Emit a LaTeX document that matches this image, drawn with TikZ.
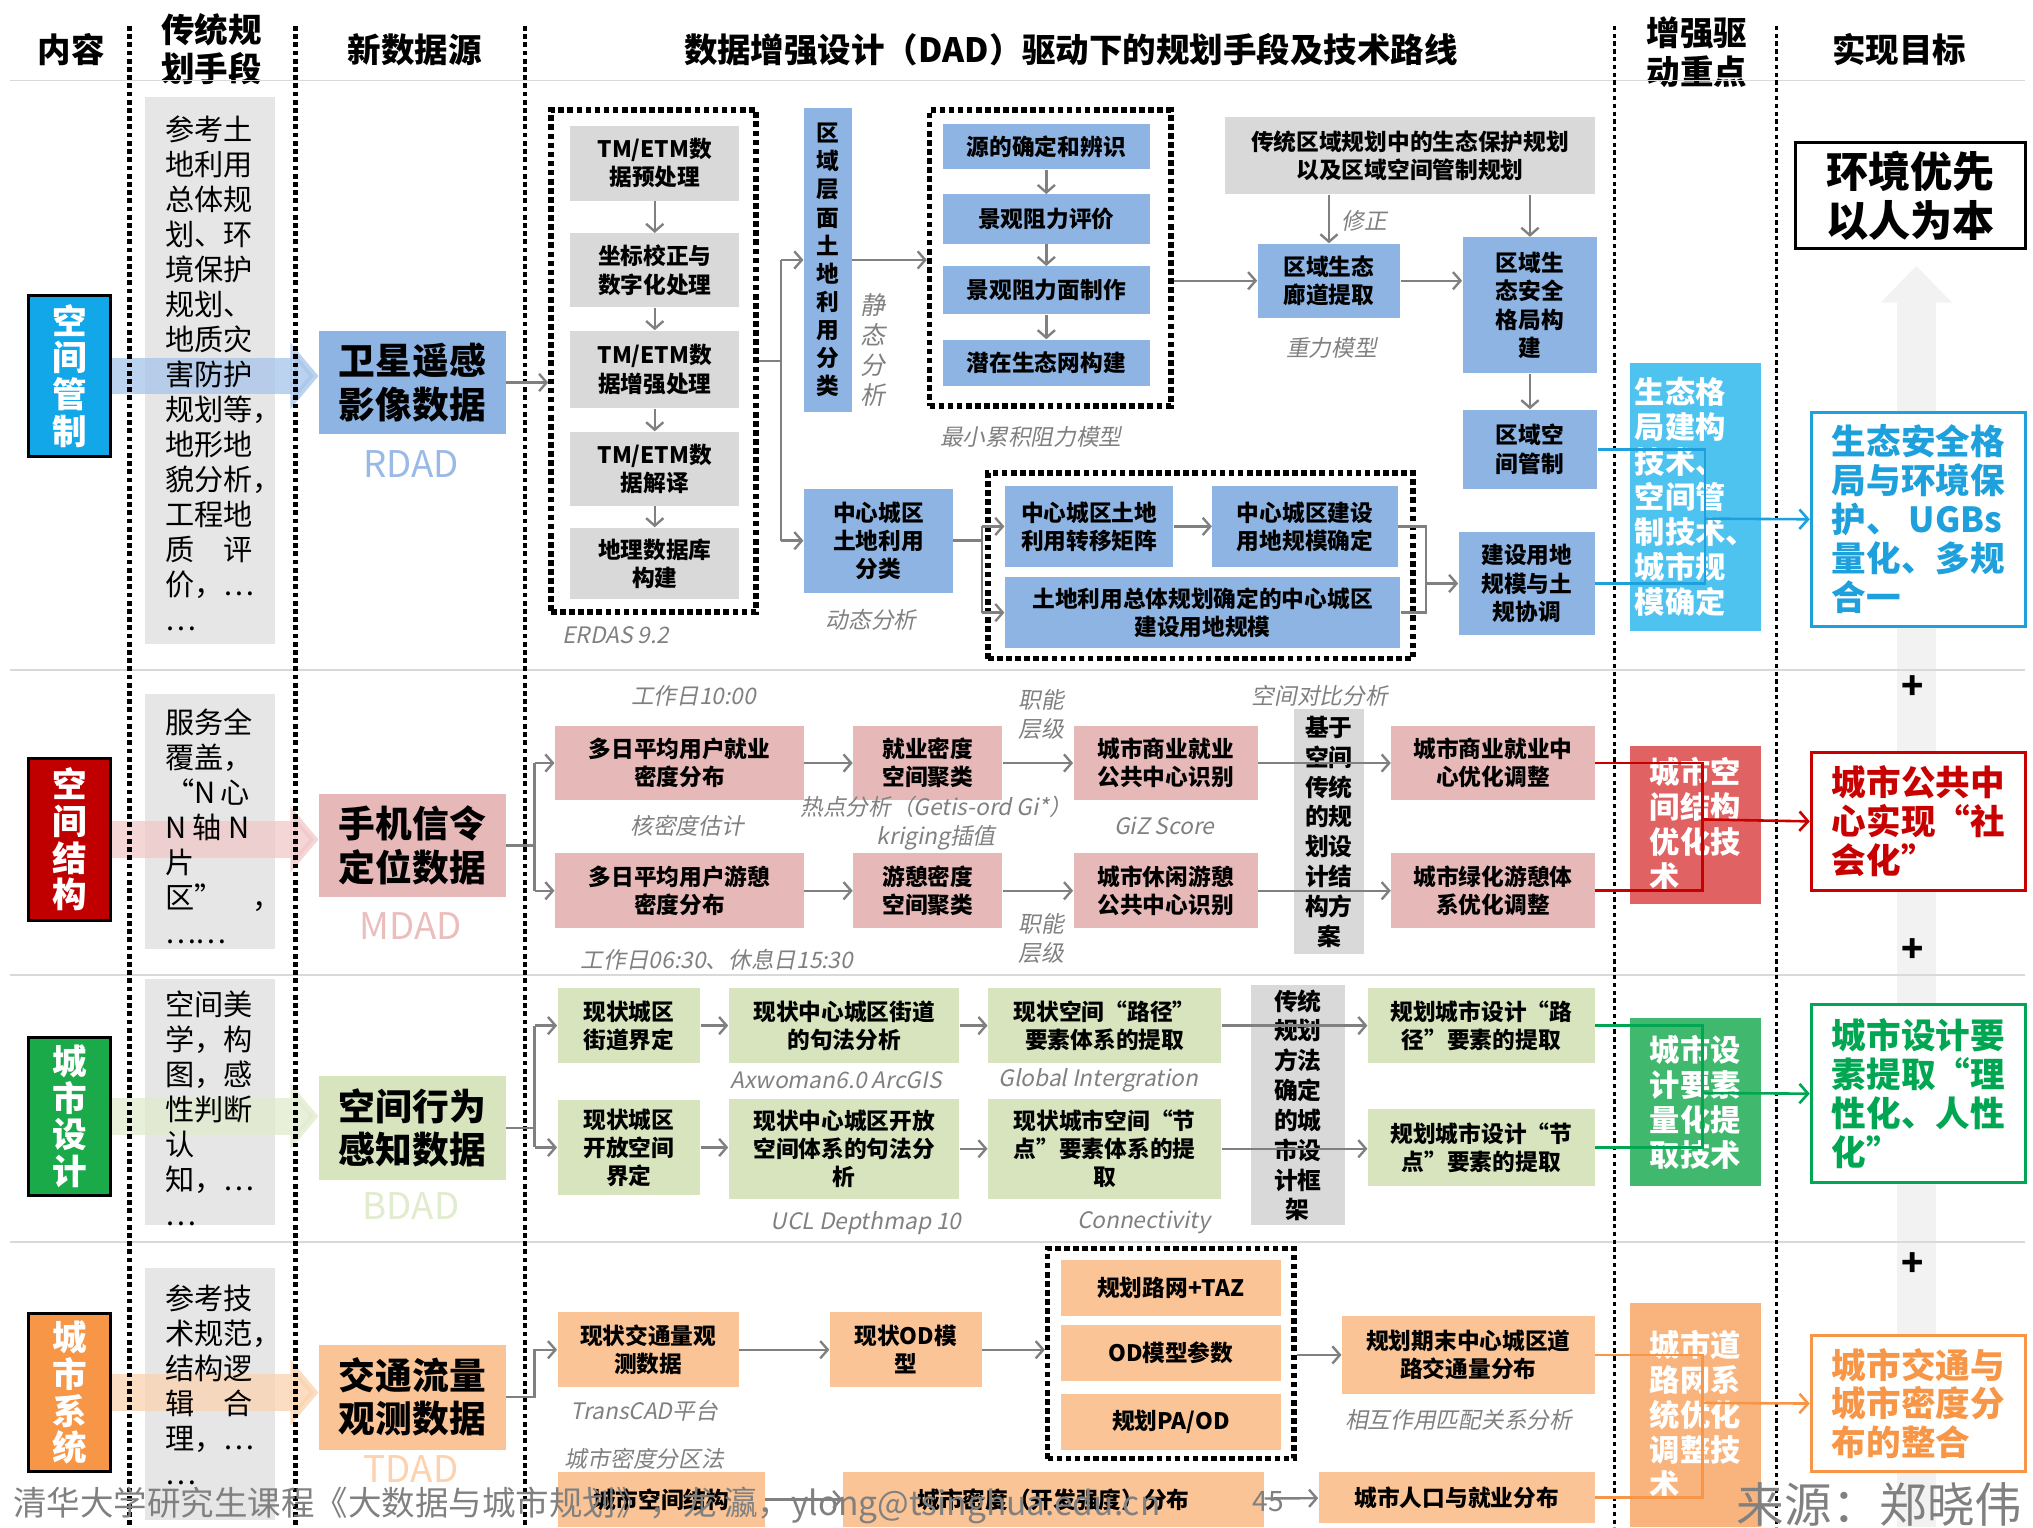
\documentclass[tikz,border=0pt]{standalone}
\usepackage{fontspec}
\setmainfont{Noto Sans CJK SC}
\newfontfamily\labfont{Noto Sans CJK SC}[FakeSlant=0.2]
\usetikzlibrary{arrows.meta}

\newcommand\upx{0.6pt}
\definecolor{catblue}{RGB}{17,167,232}
\definecolor{catred}{RGB}{192,0,0}
\definecolor{catgreen}{RGB}{26,170,74}
\definecolor{catorange}{RGB}{247,150,70}
\definecolor{boxblue}{RGB}{141,180,226}
\definecolor{boxpink}{RGB}{230,185,184}
\definecolor{boxgreen}{RGB}{215,228,189}
\definecolor{boxorange}{RGB}{250,196,150}
\definecolor{boxgray}{RGB}{217,217,217}
\definecolor{colgray}{RGB}{230,230,230}
\definecolor{enhblue}{RGB}{79,195,240}
\definecolor{enhred}{RGB}{225,98,98}
\definecolor{enhgreen}{RGB}{64,184,110}
\definecolor{enhorange}{RGB}{249,180,125}
\definecolor{lnblue}{RGB}{30,160,220}
\definecolor{lnred}{RGB}{200,0,0}
\definecolor{lngreen}{RGB}{0,166,81}
\definecolor{lnorange}{RGB}{247,150,70}
\definecolor{labgray}{RGB}{128,128,128}
\definecolor{arrgray}{RGB}{128,128,128}
\definecolor{wablue}{RGB}{166,196,234}
\definecolor{wapink}{RGB}{240,200,200}
\definecolor{wagreen}{RGB}{225,235,205}
\definecolor{waorange}{RGB}{250,210,175}
\definecolor{rdadc}{RGB}{155,185,230}
\definecolor{mdadc}{RGB}{235,190,190}
\definecolor{bdadc}{RGB}{225,235,205}
\definecolor{tdadc}{RGB}{252,210,175}

\tikzset{
  sz/.style 2 args={minimum width=#1*\upx, minimum height=#2*\upx},
  box/.style={rectangle, inner sep=0pt, align=center, font=\fontsize{10.5}{13}\selectfont\bfseries},
  graybox/.style={box, fill=boxgray},
  bluebox/.style={box, fill=boxblue},
  pinkbox/.style={box, fill=boxpink},
  greenbox/.style={box, fill=boxgreen},
  orangebox/.style={box, fill=boxorange},
  dotbox/.style={rectangle, draw, line width=2.6pt, dash pattern=on 2.6pt off 1.6pt, inner sep=0pt},
  catbox/.style={rectangle, draw=black, line width=1.2pt, inner sep=0pt, align=center, text=white, font=\fontsize{16}{17}\selectfont\bfseries},
  colbox/.style={rectangle, fill=colgray, inner sep=0pt},
  coltext/.style={anchor=west, align=left, inner sep=0pt, font=\fontsize{13.5}{16.2}\selectfont},
  databox/.style={rectangle, inner sep=0pt, align=center, font=\fontsize{17}{20}\selectfont\bfseries},
  dad/.style={inner sep=0pt, font=\fontsize{17}{17}\selectfont},
  enhbox/.style={rectangle, inner sep=0pt, align=left, text=white, font=\fontsize{14}{16.2}\selectfont\bfseries},
  goalbox/.style={rectangle, draw=#1, line width=1.4pt, fill=white, text=#1, inner sep=0pt, align=left, font=\fontsize{16}{18}\selectfont\bfseries},
  lab/.style={inner sep=0pt, align=center, text=labgray, font=\labfont\fontsize{10.5}{13.5}\selectfont},
  head/.style={inner sep=0pt, align=center, font=\fontsize{15.5}{18}\selectfont\bfseries},
  arr/.style={draw=arrgray, line width=1.1pt, -{Straight Barb[length=3.5pt,width=8pt]}},
  arrln/.style={draw=arrgray, line width=1.1pt},
  cln/.style={draw=#1, line width=1.2pt},
  carr/.style={draw=#1, line width=1.2pt, -{Straight Barb[length=4pt,width=9pt]}},
  wide/.style={draw=#1, line width=17pt, -{Triangle[length=13pt,width=30pt]}, opacity=.75},
  sepline/.style={draw=gray!30, line width=0.8pt},
  divthick/.style={draw=black, line width=2.2pt, dash pattern=on 2.2pt off 1.6pt},
  divthin/.style={draw=black, line width=1.4pt, dash pattern=on 2pt off 1.6pt},
  plus/.style={inner sep=0pt, font=\fontsize{17}{17}\selectfont\bfseries},
  foot/.style={inner sep=0pt, text=black!50, font=\fontsize{15.5}{17}\selectfont}
}

\begin{document}
\begin{tikzpicture}[x=0.6pt, y=-0.6pt]
\useasboundingbox (0,0) rectangle (1568,1178);

% background arrow towards the overall goal
\coordinate (upb) at (1478,1178);
\coordinate (upt) at (1478,205);
\draw[draw=gray!10, line width=18pt, -{Triangle[length=17pt,width=32pt]}] (upb) -- (upt);

% header
\node[head] (hcont) at (55,38) {内容};
\node[head] (htrad) at (163,38) {传统规\\划手段};
\node[head] (hsrc) at (320,38) {新数据源};
\node[head] (htitle) at (826,38) {数据增强设计（DAD）驱动下的规划手段及技术路线};
\node[head] (henh) at (1309,40) {增强驱\\动重点};
\node[head] (hgoal) at (1465,38) {实现目标};

\draw[sepline] (8,62) -- (1562,62);
\draw[sepline] (8,517) -- (1562,517);
\draw[sepline] (8,752) -- (1562,752);
\draw[sepline] (8,958) -- (1562,958);

% traditional columns
\node[colbox, sz={100}{422}] (col1) at (162,286) {};
\node[colbox, sz={100}{197}] (col2) at (162,633.5) {};
\node[colbox, sz={100}{190}] (col3) at (162,850) {};
\node[colbox, sz={100}{194}] (col4) at (162,1075) {};

% categories and data sources
\node[catbox, fill=catblue, sz={63}{124}] (cat1) at (53.5,290) {空\\间\\管\\制};
\node[catbox, fill=catred, sz={63}{125}] (cat2) at (53.5,647.5) {空\\间\\结\\构};
\node[catbox, fill=catgreen, sz={63}{122}] (cat3) at (53.5,861) {城\\市\\设\\计};
\node[catbox, fill=catorange, sz={63}{122}] (cat4) at (53.5,1074) {城\\市\\系\\统};

\node[databox, fill=boxblue, sz={144}{80}] (data1) at (318,295) {卫星遥感\\影像数据};
\node[databox, fill=boxpink, sz={144}{80}] (data2) at (318,652) {手机信令\\定位数据};
\node[databox, fill=boxgreen, sz={144}{80}] (data3) at (318,870) {空间行为\\感知数据};
\node[databox, fill=boxorange, sz={144}{81}] (data4) at (318,1077.5) {交通流量\\观测数据};

\draw[wide=wablue] (cat1.east) -- (cat1.east -| data1.west);
\draw[wide=wapink] (cat2.east) -- (cat2.east -| data2.west);
\draw[wide=wagreen] (cat3.east) -- (cat3.east -| data3.west);
\draw[wide=waorange] (cat4.east) -- (cat4.east -| data4.west);

\node[dad, text=rdadc] (rdad) at (317,358) {RDAD};
\node[dad, text=mdadc] (mdad) at (317,714) {MDAD};
\node[dad, text=bdadc] (bdad) at (317,930) {BDAD};
\node[dad, text=tdadc] (tdad) at (317,1133) {TDAD};

% column dividers
\draw[divthick] (100,20) -- (100,1178);
\draw[divthick] (228,20) -- (228,1178);
\draw[divthick] (405,20) -- (405,1178);
\draw[divthin] (1245,20) -- (1245,1178);
\draw[divthin] (1370,20) -- (1370,1178);

\node[coltext] (col1t) at (127,288) {参考土\\地利用\\总体规\\划、环\\境保护\\规划、\\地质灾\\害防护\\规划等，\\地形地\\貌分析，\\工程地\\质　评\\价，…\\…};
\node[coltext] (col2t) at (127,637) {服务全\\覆盖，\\“N\,心\\N~轴~N\\片\\区”　，\\……};
\node[coltext] (col3t) at (127,855) {空间美\\学，构\\图，感\\性判断\\认\\知，…\\…};
\node[coltext] (col4t) at (127,1068) {参考技\\术规范，\\结构逻\\辑　合\\理，…\\…};

% ---- row 1: spatial control
\node[dotbox, sz={158}{387}] (erdas) at (504,278.5) {};
\node[graybox, sz={130}{58}] (e1) at (505,126) {TM/ETM数\\据预处理};
\node[graybox, sz={130}{57}] (e2) at (505,208.5) {坐标校正与\\数字化处理};
\node[graybox, sz={130}{60}] (e3) at (505,285) {TM/ETM数\\据增强处理};
\node[graybox, sz={130}{57}] (e4) at (505,361.5) {TM/ETM数\\据解译};
\node[graybox, sz={130}{55}] (e5) at (505,434.5) {地理数据库\\构建};
\draw[arr] (e1) -- (e2);
\draw[arr] (e2) -- (e3);
\draw[arr] (e3) -- (e4);
\draw[arr] (e4) -- (e5);
\node[lab] (lerdas) at (475,490) {ERDAS 9.2};
\draw[arr] (data1.east) -- (data1.east -| erdas.west);

\node[bluebox, sz={37}{235}] (reg) at (638.5,200.5) {区\\域\\层\\面\\土\\地\\利\\用\\分\\类};
\node[lab, font=\labfont\fontsize{11.5}{14}\selectfont] (lstat) at (673,270) {静\\态\\分\\析};
\node[bluebox, sz={115}{80}] (ctr) at (677.5,417) {中心城区\\土地利用\\分类};
\node[lab] (ldyn) at (672,478) {动态分析};
\draw[arrln] (erdas.east) -- ++(17,0) coordinate (br1);
\draw[arrln] (br1 |- reg.west) -- (br1 |- ctr.west);
\draw[arr] (br1 |- reg.west) -- (reg.west);
\draw[arr] (br1 |- ctr.west) -- (ctr.west);

\node[dotbox, sz={186}{228}] (mlr) at (810,199) {};
\node[bluebox, sz={160}{35}] (m1) at (807,113) {源的确定和辨识};
\node[bluebox, sz={160}{38}] (m2) at (807,169) {景观阻力评价};
\node[bluebox, sz={160}{37}] (m3) at (807,224) {景观阻力面制作};
\node[bluebox, sz={160}{36}] (m4) at (807,280) {潜在生态网构建};
\draw[arr] (m1) -- (m2);
\draw[arr] (m2) -- (m3);
\draw[arr] (m3) -- (m4);
\node[lab] (lmlr) at (795,337) {最小累积阻力模型};
\draw[arr] (reg.east) -- (reg.east -| mlr.west);

\node[graybox, sz={285}{60}] (tradr) at (1087.5,120) {传统区域规划中的生态保护规划\\以及区域空间管制规划};
\node[bluebox, sz={110}{57}] (corr) at (1025,216.5) {区域生态\\廊道提取};
\node[lab] (lgrav) at (1027,268) {重力模型};
\node[bluebox, sz={104}{105}] (sec) at (1180,235.5) {区域生\\态安全\\格局构\\建};
\node[bluebox, sz={104}{61}] (ctrl) at (1180,346.5) {区域空\\间管制};
\draw[arr] (mlr.east |- corr.west) -- (corr.west);
\draw[arr] (corr.north |- tradr.south) -- (corr.north);
\node[lab] (lfix) at (1052,170) {修正};
\draw[arr] (sec.north |- tradr.south) -- (sec.north);
\draw[arr] (corr.east) -- (corr.east -| sec.west);
\draw[arr] (sec) -- (ctrl);

\node[dotbox, sz={328}{143}] (scale) at (926,436.5) {};
\node[bluebox, sz={130}{62}] (t1) at (840,406) {中心城区土地\\利用转移矩阵};
\node[bluebox, sz={143}{62}] (t2) at (1006.5,406) {中心城区建设\\用地规模确定};
\node[bluebox, sz={305}{55}] (t3) at (927.5,472.5) {土地利用总体规划确定的中心城区\\建设用地规模};
\node[bluebox, sz={105}{80}] (lsc) at (1177.5,450) {建设用地\\规模与土\\规协调};
\draw[arrln] (ctr.east) -- ++(22,0) coordinate (br2);
\draw[arrln] (br2 |- t1.west) -- (br2 |- t3.west);
\draw[arr] (br2 |- t1.west) -- (t1.west);
\draw[arr] (br2 |- t3.west) -- (t3.west);
\draw[arr] (t1) -- (t2);
\coordinate (bk1) at (1100,450);
\draw[arrln] (t2.east) -| (bk1) |- (t3.east);
\draw[arr] (bk1) -- (lsc.west);

\node[enhbox, fill=enhblue, sz={101}{207}] (enh1) at (1307.5,383.5) {生态格\\局建构\\技术、\\空间管\\制技术、\\城市规\\模确定};
\node[goalbox=lnblue, sz={165}{165}] (goal1) at (1479.5,400.5) {生态安全格\\局与环境保\\护、 UGBs\\量化、多规\\合一};
\node[rectangle, draw=black, line width=1.4pt, fill=white, inner sep=0pt, align=center, font=\fontsize{19.5}{23}\selectfont\bfseries, sz={177}{82}] (goal0) at (1473.5,151) {环境优先\\以人为本};
\coordinate (cj) at (1315,400);
\draw[cln=lnblue] (ctrl.east) -| (cj) |- (lsc.east);
\draw[carr=lnblue] (cj) -- (goal1.west);

% ---- row 2: spatial structure
\node[pinkbox, sz={192}{57}] (p1) at (524,588.5) {多日平均用户就业\\密度分布};
\node[pinkbox, sz={192}{58}] (p2) at (524,687) {多日平均用户游憩\\密度分布};
\node[pinkbox, sz={115}{57}] (p3) at (715.5,588.5) {就业密度\\空间聚类};
\node[pinkbox, sz={115}{58}] (p4) at (715.5,687) {游憩密度\\空间聚类};
\node[pinkbox, sz={142}{57}] (p5) at (899,588.5) {城市商业就业\\公共中心识别};
\node[pinkbox, sz={142}{58}] (p6) at (899,687) {城市休闲游憩\\公共中心识别};
\node[box, fill=boxgray, font=\fontsize{11}{13.8}\selectfont\bfseries, sz={54}{189}] (g2) at (1025,641.5) {基于\\空间\\传统\\的规\\划设\\计结\\构方\\案};
\node[pinkbox, sz={157}{57}] (p7) at (1151.5,588.5) {城市商业就业中\\心优化调整};
\node[pinkbox, sz={157}{58}] (p8) at (1151.5,687) {城市绿化游憩体\\系优化调整};
\draw[arrln] (data2.east) -- ++(22,0) coordinate (br3);
\draw[arrln] (br3 |- p1.west) -- (br3 |- p2.west);
\draw[arr] (br3 |- p1.west) -- (p1.west);
\draw[arr] (br3 |- p2.west) -- (p2.west);
\draw[arr] (p1) -- (p3);
\draw[arr] (p3) -- (p5);
\draw[arr] (p5) -- (p7);
\draw[arr] (p2) -- (p4);
\draw[arr] (p4) -- (p6);
\draw[arr] (p6) -- (p8);
\node[lab] (lwork) at (535,537) {工作日10:00};
\node[lab] (lkern) at (530,637) {核密度估计};
\node[lab] (lhot) at (722,635) {热点分析（Getis-ord Gi*）\\kriging插值};
\node[lab] (lfun1) at (803,551) {职能\\层级};
\node[lab] (lgiz) at (898,637) {GiZ Score};
\node[lab] (lcomp) at (1018,537) {空间对比分析};
\node[lab] (lfun2) at (803,724) {职能\\层级};
\node[lab] (lrest) at (553,740) {工作日06:30、休息日15:30};
\node[enhbox, fill=enhred, sz={101}{122}] (enh2) at (1307.5,636) {城市空\\间结构\\优化技\\术};
\node[goalbox=lnred, sz={165}{107}] (goal2) at (1479.5,633.5) {城市公共中\\心实现“社\\会化”};
\coordinate (rj) at (1313,632);
\draw[cln=lnred] (p7.east) -| (rj) |- (p8.east);
\draw[carr=lnred] (rj) -- (goal2.west);

% ---- row 3: urban design
\node[greenbox, sz={110}{58}] (q1) at (485,791) {现状城区\\街道界定};
\node[greenbox, sz={110}{74}] (q2) at (485,885) {现状城区\\开放空间\\界定};
\node[greenbox, sz={178}{58}] (q3) at (651,791) {现状中心城区街道\\的句法分析};
\node[greenbox, sz={178}{77}] (q4) at (651,886) {现状中心城区开放\\空间体系的句法分\\析};
\node[greenbox, sz={180}{58}] (q5) at (852,791) {现状空间“路径”\\要素体系的提取};
\node[greenbox, sz={180}{77}] (q6) at (852,886) {现状城市空间“节\\点”要素体系的提\\取};
\node[box, fill=boxgray, font=\fontsize{11}{13.8}\selectfont\bfseries, sz={72}{185}] (g3) at (1001,852.5) {传统\\规划\\方法\\确定\\的城\\市设\\计框\\架};
\node[greenbox, sz={175}{58}] (q7) at (1142.5,791) {规划城市设计“路\\径”要素的提取};
\node[greenbox, sz={175}{60}] (q8) at (1142.5,885) {规划城市设计“节\\点”要素的提取};
\draw[arrln] (data3.east) -- ++(22,0) coordinate (br4);
\draw[arrln] (br4 |- q1.west) -- (br4 |- q2.west);
\draw[arr] (br4 |- q1.west) -- (q1.west);
\draw[arr] (br4 |- q2.west) -- (q2.west);
\draw[arr] (q1) -- (q3);
\draw[arr] (q3) -- (q5);
\draw[arr] (q5) -- (q7);
\draw[arr] (q2.east) -- (q2.east -| q4.west);
\draw[arr] (q4) -- (q6);
\draw[arr] (q6.east) -- (q6.east -| q8.west);
\node[lab] (laxw) at (645,833) {Axwoman6.0 ArcGIS};
\node[lab] (lglob) at (847,833) {Global Intergration};
\node[lab] (lucl) at (668,943) {UCL Depthmap 10};
\node[lab] (lconn) at (882,943) {Connectivity};
\node[enhbox, fill=enhgreen, sz={101}{130}] (enh3) at (1307.5,850) {城市设\\计要素\\量化提\\取技术};
\node[goalbox=lngreen, sz={165}{137}] (goal3) at (1479.5,843.5) {城市设计要\\素提取“理\\性化、人性\\化”};
\coordinate (gj) at (1313,843);
\draw[cln=lngreen] (q7.east) -| (gj) |- (q8.east);
\draw[carr=lngreen] (gj) -- (goal3.west);

% ---- row 4: urban system
\node[orangebox, sz={140}{58}] (o1) at (500,1041) {现状交通量观\\测数据};
\node[orangebox, sz={117}{58}] (o2) at (698.5,1041) {现状OD模\\型};
\node[dotbox, sz={190}{162}] (od) at (903,1044) {};
\node[orangebox, sz={170}{43}] (o3) at (903,993.5) {规划路网+TAZ};
\node[orangebox, sz={170}{43}] (o4) at (903,1043.5) {OD模型参数};
\node[orangebox, sz={170}{43}] (o5) at (903,1096.5) {规划PA/OD};
\node[orangebox, sz={195}{60}] (o6) at (1132.5,1045) {规划期末中心城区道\\路交通量分布};
\node[orangebox, sz={160}{43}] (o7) at (510,1156.5) {城市空间结构};
\node[orangebox, sz={325}{43}] (o8) at (812.5,1156.5) {城市密度（开发强度）分布};
\node[orangebox, sz={213}{40}] (o9) at (1123.5,1155) {城市人口与就业分布};
\draw[arr] (data4.east) -- ++(22,0) |- (o1.west);
\draw[arr] (o1) -- (o2);
\draw[arr] (o2.east) -- (o2.east -| od.west);
\draw[arr] (od.east |- o6.west) -- (o6.west);
\draw[arr] (o7) -- (o8);
\draw[arr] (o8) -- (o9);
\node[lab] (ltrans) at (497,1088) {TransCAD平台};
\node[lab] (ldens) at (497,1125) {城市密度分区法};
\node[lab] (linter) at (1125,1095) {相互作用匹配关系分析};
\node[enhbox, fill=enhorange, sz={101}{173}] (enh4) at (1307.5,1091.5) {城市道\\路网系\\统优化\\调整技\\术};
\node[goalbox=lnorange, sz={165}{105}] (goal4) at (1479.5,1082.5) {城市交通与\\城市密度分\\布的整合};
\coordinate (oj) at (1313,1082);
\draw[cln=lnorange] (o6.east) -| (oj) |- (o9.east);
\draw[carr=lnorange] (oj) -- (goal4.west);

\node[plus] (plus1) at (1475,530) {+};
\node[plus] (plus2) at (1475,733) {+};
\node[plus] (plus3) at (1475,975) {+};

% footer
\node[foot, anchor=west] (foot1) at (10,1161) {清华大学研究生课程《大数据与城市规划》，龙\ 瀛，ylong@tsinghua.edu.cn};
\node[foot, font=\fontsize{13}{13}\selectfont] (foot2) at (978,1158) {45};
\node[foot, anchor=east, font=\fontsize{22}{22}\selectfont] (foot3) at (1560,1160) {来源：郑晓伟};
\end{tikzpicture}
\end{document}
